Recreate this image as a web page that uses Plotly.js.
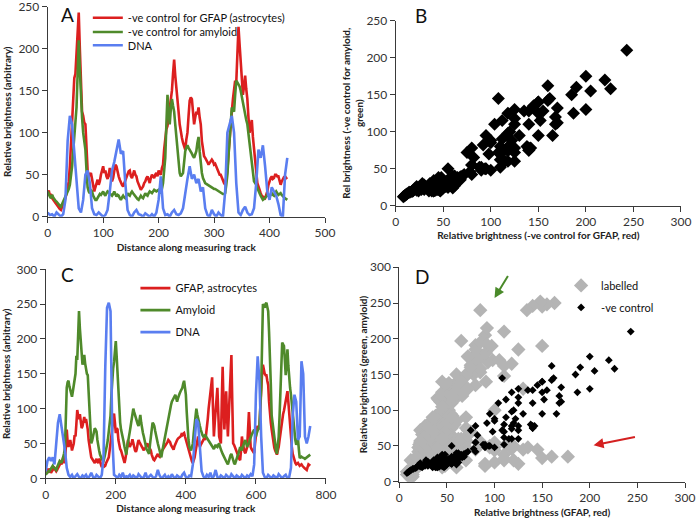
<!DOCTYPE html>
<html>
<head>
<meta charset="utf-8">
<script src="https://cdn.plot.ly/plotly-3.0.1.min.js"></script>
<style>html,body{margin:0;padding:0;background:#fff;}#chart{width:697px;height:519px;}</style>
</head>
<body>
<div id="chart"></div>
<script>
// Panel A: -ve control track. Red/green sampled every 2 units, DNA every 4 units, from 0
const stepA = 2;
const stepBlueA = 4;
const redA = [28,31,25,27,22,20,18,17,15,12,10,9,8,11,14,18,22,28,35,42,
  60,90,118,140,165,170,200,220,243,200,150,125,120,112,110,80,55,48,50,52,
  45,36,30,35,40,44,38,42,50,56,60,52,55,48,45,50,58,48,42,46,
  55,62,60,52,48,44,40,38,36,40,42,47,50,54,55,48,46,52,55,50,
  48,42,38,34,32,34,36,40,42,46,48,44,40,46,50,48,46,50,52,48,
  55,52,50,58,62,80,98,104,108,118,125,135,150,170,187,168,150,140,125,110,
  100,94,88,82,80,92,100,120,138,142,140,125,110,118,125,122,130,118,110,90,
  78,72,70,68,65,62,64,66,68,66,62,63,60,55,52,50,50,46,44,40,
  38,45,55,75,95,112,125,140,150,162,160,190,226,205,185,160,145,155,168,152,
  140,118,100,108,115,95,80,60,48,40,36,30,28,25,24,22,22,26,30,38,
  44,46,48,45,46,50,50,48,48,42,38,42,45,47,48,46,47];
const greenA = [30,26,24,22,26,23,20,19,18,16,14,13,12,15,18,20,22,25,28,33,
  38,48,60,78,95,112,130,170,210,175,140,118,100,90,80,55,35,30,28,32,
  30,25,22,20,20,23,24,27,26,28,30,27,25,28,30,29,28,26,25,27,
  30,27,24,26,25,22,20,23,25,23,22,25,28,26,25,28,30,28,26,24,
  22,21,20,23,25,23,22,25,28,26,25,28,30,29,28,30,32,31,30,31,
  32,30,28,33,40,55,70,110,145,125,110,128,140,132,125,110,95,75,60,52,
  48,50,52,65,78,82,85,82,80,78,75,72,70,74,78,88,95,78,62,52,
  46,42,40,39,38,37,36,36,35,34,33,33,32,31,30,30,29,28,27,27,
  28,38,50,72,95,115,130,128,125,145,162,160,158,155,150,142,135,128,120,115,
  110,98,88,72,60,50,42,40,38,34,30,28,25,22,20,21,22,24,26,25,
  24,26,28,26,25,28,30,28,26,27,28,26,24,23,22,21,20];
const blueA = [5,2,3,0,5,2,0,3,20,90,
  120,110,80,40,10,5,20,50,55,40,
  10,3,2,5,3,0,2,8,30,55,
  65,80,92,75,78,40,8,2,0,5,
  8,3,2,0,4,2,0,3,0,5,
  20,48,10,2,3,0,5,8,3,2,
  4,10,30,45,60,45,50,40,45,30,
  35,10,2,0,8,3,0,5,2,0,
  30,100,110,120,100,40,5,2,8,12,
  5,2,3,10,40,80,70,85,60,30,
  20,35,30,25,15,2,0,50,70];

// Panel C: labelled track. Red/green sampled every 2.5 units, DNA every 5 units, from 0
const stepC = 2.5;
const stepBlueC = 5;
const redC = [12,14,10,8,14,11,8,10,12,16,15,12,10,12,14,17,18,22,20,24,
  30,22,25,45,70,52,45,50,55,48,40,45,50,62,60,78,98,90,85,92,
  80,72,75,82,88,80,85,78,70,55,45,36,30,28,26,24,22,25,28,24,
  22,28,26,20,16,18,20,17,18,22,25,28,30,40,50,62,70,85,93,80,
  65,72,70,55,45,42,40,35,30,25,22,28,35,45,55,50,45,48,50,56,
  50,44,40,38,42,50,55,52,50,46,45,42,40,44,42,48,50,47,45,42,
  40,34,30,27,26,28,30,33,35,32,31,36,38,40,41,44,45,48,50,52,
  55,54,52,48,45,43,41,46,50,53,55,57,58,60,60,63,62,64,65,60,
  55,50,45,40,35,30,26,24,22,26,30,38,45,52,60,50,45,48,50,52,
  55,58,55,62,70,85,100,112,120,135,145,100,60,80,100,118,130,95,60,55,
  50,110,160,110,70,100,125,90,60,90,120,150,177,110,50,48,45,42,40,35,
  30,28,26,40,60,50,40,38,36,40,45,70,95,70,45,42,40,38,36,50,
  65,72,75,72,70,100,130,150,163,155,150,148,148,140,134,110,91,80,70,58,
  48,44,40,36,34,40,45,55,66,75,85,92,97,105,110,118,125,110,91,72,
  55,45,35,30,26,22,20,21,22,20,18,19,20,18,16,15,14,13,12,16,
  20,19,18];
const greenC = [5,7,8,10,10,12,14,16,18,16,15,13,12,16,20,22,25,24,22,26,
  30,36,45,90,130,138,140,132,125,120,117,125,135,142,150,176,170,205,240,215,
  191,175,163,170,177,165,153,150,148,125,100,75,50,54,60,66,72,70,67,55,
  45,40,34,30,28,26,25,30,35,42,48,56,65,78,90,120,148,158,167,185,
  197,175,150,120,90,80,70,65,60,52,45,38,34,45,55,62,67,75,85,92,
  100,95,90,86,82,78,75,84,91,80,70,65,60,52,45,42,40,37,35,48,
  60,72,80,78,75,68,60,55,50,45,40,35,30,38,45,52,60,66,70,80,
  90,95,100,105,110,112,115,118,120,115,110,115,120,122,125,128,130,136,140,130,
  120,95,70,55,45,42,40,45,50,65,80,92,100,92,85,80,75,70,65,62,
  60,61,62,60,58,56,55,52,50,48,45,44,42,45,48,46,45,48,50,45,
  40,38,35,32,30,27,25,22,20,25,30,33,35,30,25,22,20,25,30,32,
  35,40,45,42,40,45,50,52,55,50,45,48,50,55,60,62,65,68,70,65,
  60,65,70,72,75,100,130,190,250,248,245,250,252,246,240,210,180,135,90,80,
  70,58,45,40,35,48,60,90,120,160,195,192,190,170,148,165,185,162,140,130,
  120,105,90,75,62,55,48,52,57,42,29,30,31,30,30,29,28,29,30,31,
  32,33,34];
const blueC = [10,25,30,25,30,20,50,80,92,75,
  60,40,15,5,2,5,0,3,6,2,
  0,4,2,5,0,3,8,2,0,5,
  2,0,5,30,160,245,252,240,60,5,
  3,0,5,2,8,0,3,2,5,0,
  4,2,0,6,3,0,2,8,0,3,
  5,2,0,3,12,4,0,2,5,0,
  3,0,6,2,0,4,2,0,5,8,
  2,0,4,3,20,60,85,80,50,10,
  3,0,5,2,8,0,3,12,2,0,
  4,2,0,5,3,0,6,2,0,4,
  2,0,5,3,0,4,2,6,3,20,
  120,175,140,60,8,2,0,5,3,0,
  4,2,0,6,2,0,3,5,0,2,
  15,90,120,110,55,60,168,150,60,50,
  60,75];

const namesA = ['-ve control for GFAP (astrocytes)', '-ve control for amyloid', 'DNA'];
const namesC = ['GFAP, astrocytes', 'Amyloid', 'DNA'];
const namesD = ['labelled', '-ve control'];
const panelLetters = ['A', 'B', 'C', 'D'];

const RED = '#dc1f1f', GREEN = '#4f8a2b', BLUE = '#5a7ef0';
const FONT = 'Lato, "Open Sans", sans-serif';

function lineTrace(y, step, name, color, xa, ya, legend, grp) {
  return {type: 'scatter', mode: 'lines', x0: 0, dx: step, y: y, name: name,
    line: {color: color, width: 2.6}, xaxis: xa, yaxis: ya, legend: legend, legendgroup: grp};
}

const traces = [
  lineTrace(redA, stepA, namesA[0], RED, 'x', 'y', 'legend', 'a1'),
  lineTrace(greenA, stepA, namesA[1], GREEN, 'x', 'y', 'legend4', 'a2'),
  lineTrace(blueA, stepBlueA, namesA[2], BLUE, 'x', 'y', 'legend5', 'a3'),
  {type: 'scatter', mode: 'markers', x: redA, y: greenA, xaxis: 'x2', yaxis: 'y2', showlegend: false,
    marker: {symbol: 'diamond', color: '#000', size: 10}},
  lineTrace(redC, stepC, namesC[0], RED, 'x3', 'y3', 'legend2', 'c1'),
  lineTrace(greenC, stepC, namesC[1], GREEN, 'x3', 'y3', 'legend2', 'c2'),
  lineTrace(blueC, stepBlueC, namesC[2], BLUE, 'x3', 'y3', 'legend2', 'c3'),
  {type: 'scatter', mode: 'markers', x: redC, y: greenC, xaxis: 'x4', yaxis: 'y4', name: namesD[0],
    legend: 'legend3', legendgroup: 'd1', marker: {symbol: 'diamond', color: '#b4b4b4', size: 11}},
  {type: 'scatter', mode: 'markers', x: redA, y: greenA, xaxis: 'x4', yaxis: 'y4', name: namesD[1],
    legend: 'legend3', legendgroup: 'd2', marker: {symbol: 'diamond', color: '#000', size: 6}}
];

function ax(extra) {
  return Object.assign({
    showline: true, linecolor: '#3a3a3a', linewidth: 1, ticks: 'outside', ticklen: 5,
    tickcolor: '#3a3a3a', showgrid: false, zeroline: false, fixedrange: true,
    ticklabeloverflow: 'allow',
    tickfont: {family: FONT, size: 12, color: '#333'}
  }, extra);
}
function ttl(text, standoff) {
  return {text: text, standoff: standoff, font: {family: FONT, size: 10, color: '#222', weight: 'bold'}};
}
function leg(x, y, gap) {
  return {x: x, y: y, xanchor: 'left', yanchor: 'top', bgcolor: 'rgba(0,0,0,0)',
    font: {family: FONT, size: 11, color: '#111'}, itemwidth: 30, tracegroupgap: gap};
}
function letter(t, px, py) {
  return {xref: 'paper', yref: 'paper', x: px / 697, y: 1 - py / 519, xanchor: 'center', yanchor: 'middle',
    text: t, showarrow: false, font: {family: FONT, size: 19, color: '#111'}};
}

const layout = {
  width: 697, height: 519,
  margin: {l: 0, r: 0, t: 0, b: 0},
  paper_bgcolor: '#fff', plot_bgcolor: '#fff',
  font: {family: FONT},
  xaxis: ax({domain: [0.0684, 0.4663], anchor: 'y', range: [0, 500], dtick: 100,
    title: ttl('Distance along measuring track', 4)}),
  yaxis: ax({domain: [0.5825, 0.9871], anchor: 'x', range: [0, 250], dtick: 50,
    title: ttl('Relative brightness (arbitrary)', 4)}),
  xaxis2: ax({domain: [0.5677, 0.977], anchor: 'y2', range: [0, 300], dtick: 50,
    title: ttl('Relative brightness (-ve control for GFAP, red)', 1)}),
  yaxis2: ax({domain: [0.6037, 0.9601], anchor: 'x2', range: [0, 250], dtick: 50,
    title: ttl('Rel brightness (-ve control for amyloid,<br>green)', 0)}),
  xaxis3: ax({domain: [0.0656, 0.4677], anchor: 'y3', range: [0, 800], dtick: 200,
    title: ttl('Distance along measuring track', 4)}),
  yaxis3: ax({domain: [0.0784, 0.4811], anchor: 'x3', range: [0, 300], dtick: 50,
    title: ttl('Relative brightness (arbitrary)', 3)}),
  xaxis4: ax({domain: [0.5729, 0.9828], anchor: 'y4', range: [0, 300], dtick: 50,
    title: ttl('Relative brightness (GFAP, red)', 4)}),
  yaxis4: ax({domain: [0.0719, 0.4850], anchor: 'x4', range: [0, 300], dtick: 50,
    title: ttl('Relative brightness (green, amyloid)', 0)}),
  legend: leg(0.126, 0.9938, 0),
  legend4: leg(0.126, 0.9663, 0),
  legend5: leg(0.126, 0.9407, 0),
  legend2: leg(0.1943, 0.4728, 3),
  legend3: leg(0.805, 0.478, 3),
  annotations: [
    letter(panelLetters[0], 67, 14),
    letter(panelLetters[1], 421, 15),
    letter(panelLetters[2], 67, 274),
    letter(panelLetters[3], 422, 276),
    {xref: 'x4', yref: 'y4', axref: 'x4', ayref: 'y4', x: 100, y: 257, ax: 115, ay: 290, text: '',
      showarrow: true, arrowhead: 2, arrowsize: 1, arrowwidth: 2, arrowcolor: '#4a8a2a'},
    {xref: 'x4', yref: 'y4', axref: 'x4', ayref: 'y4', x: 204, y: 51, ax: 249, ay: 63, text: '',
      showarrow: true, arrowhead: 2, arrowsize: 1, arrowwidth: 2, arrowcolor: '#d42020'}
  ]
};

Plotly.newPlot('chart', traces, layout, {staticPlot: true, displayModeBar: false});
</script>
</body>
</html>
